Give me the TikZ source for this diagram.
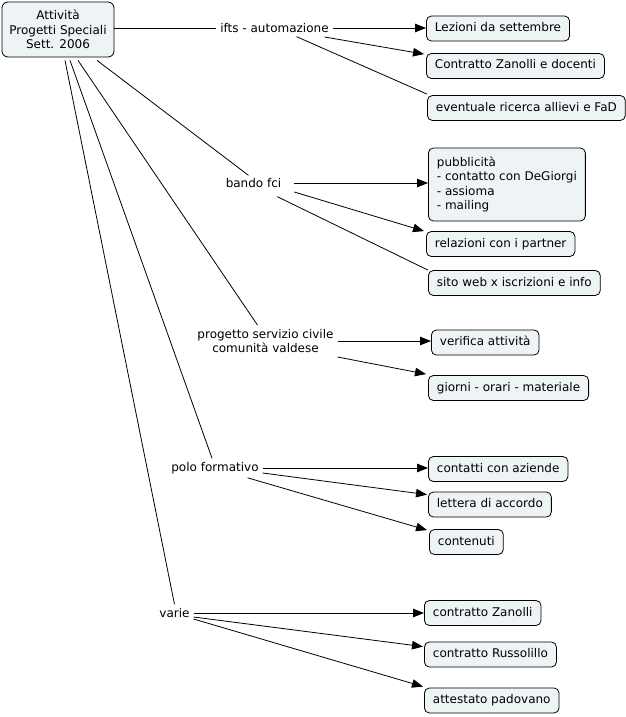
\documentclass[tikz,border=0pt]{standalone}
\usepackage{fontspec}
\setmainfont{DejaVu Sans}
\usetikzlibrary{arrows.meta}
\definecolor{boxfill}{HTML}{EEF3F5}
\begin{document}
\begin{tikzpicture}[x=1pt,y=-1pt,
  every node/.style={font=\fontsize{12}{14.5}\selectfont},
  cbox/.style={draw=black, fill=boxfill, rounded corners=5pt, line width=0.8pt,
    inner xsep=8.5pt, inner ysep=6.5pt, text height=9pt, text depth=3pt, anchor=west},
  lbl/.style={inner sep=0pt, outer sep=4pt, align=center},
  conn/.style={line width=0.8pt},
  arr/.style={line width=0.8pt, -{Triangle[length=11pt,width=8.5pt]}}]
\useasboundingbox[fill=white] (0,0) rectangle (626,717);

% root
\node[draw=black, fill=boxfill, rounded corners=6pt, line width=0.8pt, align=center,
  minimum width=112pt, minimum height=55pt, inner sep=0pt] (root) at (58,29.5)
  {Attività\\Progetti Speciali\\Sett. 2006};

% linking labels
\node[lbl] (ifts) at (274.5,28) {ifts - automazione};
\node[lbl] (bando) at (253.5,183) {bando fci};
\node[lbl] (prog) at (265.5,341) {progetto servizio civile\\comunità valdese};
\node[lbl] (polo) at (215,468) {polo formativo};
\node[lbl] (varie) at (174.5,613) {varie};

% concept boxes
\node[cbox] (lez) at (426,28.5) {Lezioni da settembre};
\node[cbox] (contr) at (426,66) {Contratto Zanolli e docenti};
\node[cbox] (event) at (427,108) {eventuale ricerca allievi e FaD};
\node[cbox, align=left, text height=, text depth=, minimum height=73pt] (pub) at (428,184.5)
  {pubblicità\\- contatto con DeGiorgi\\- assioma\\- mailing};
\node[cbox] (relaz) at (426,244) {relazioni con i partner};
\node[cbox] (sito) at (428,283) {sito web x iscrizioni e info};
\node[cbox] (verif) at (431,342.5) {verifica attività};
\node[cbox] (giorni) at (428,388) {giorni - orari - materiale};
\node[cbox] (contatti) at (428,469) {contatti con aziende};
\node[cbox] (lettera) at (428,504.5) {lettera di accordo};
\node[cbox] (contenuti) at (429,542) {contenuti};
\node[cbox] (czan) at (424,613) {contratto Zanolli};
\node[cbox] (crus) at (424,654.5) {contratto Russolillo};
\node[cbox] (attest) at (424,700.5) {attestato padovano};

% root to labels
\draw[conn] (root.east |- ifts.west) -- (ifts.west);
\draw[conn] ([shift={(39,3)}]root.south) -- ([shift={(-5,1)}]bando.north);
\draw[conn] ([shift={(20,3)}]root.south) -- ([shift={(-8,0)}]prog.north);
\draw[conn] ([shift={(12,3)}]root.south) -- ([shift={(-3,0)}]polo.north);
\draw[conn] ([shift={(7,3)}]root.south) -- (varie.north);

% ifts
\draw[arr] (ifts.east) -- (lez.west |- ifts.east);
\draw[arr] ([shift={(-8,9)}]ifts.east) -- ([shift={(-2,1)}]contr.north west);
\draw[conn] ([shift={(22,0)}]ifts.south) -- ([shift={(0,-1)}]event.north west);

% bando
\draw[arr] ([xshift=9pt]bando.east) -- (pub.west |- bando.east);
\draw[arr] ([shift={(9,9)}]bando.east) -- ([shift={(-2,0)}]relaz.north west);
\draw[conn] ([shift={(-8,5)}]bando.south east) -- (sito.north west);

% progetto
\draw[arr] (prog.east) -- (verif.west |- prog.east);
\draw[arr] ([shift={(0,16)}]prog.east) -- ([shift={(-2,-1)}]giorni.north west);

% polo
\draw[arr] (polo.east) -- (contatti.west |- polo.east);
\draw[arr] ([shift={(0,5)}]polo.east) -- ([shift={(-1,3)}]lettera.north west);
\draw[arr] ([shift={(-15,0)}]polo.south east) -- ([shift={(-2,1)}]contenuti.north west);

% varie
\draw[arr] (varie.east) -- (czan.west |- varie.east);
\draw[arr] ([shift={(0,4)}]varie.east) -- ([shift={(-1,5)}]crus.north west);
\draw[arr] ([shift={(0,6)}]varie.east) -- ([shift={(-1,-1)}]attest.north west);
\end{tikzpicture}
\end{document}
